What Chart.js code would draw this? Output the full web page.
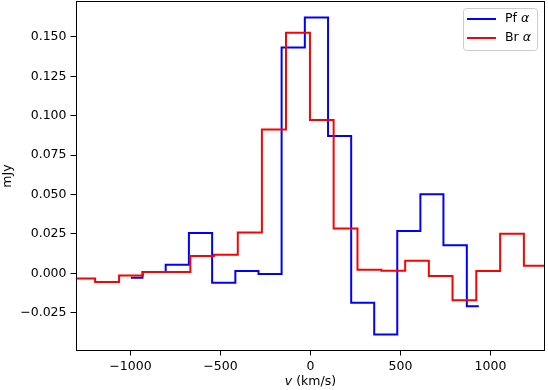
<!DOCTYPE html>
<html>
<head>
<meta charset="utf-8">
<script src="https://cdn.jsdelivr.net/npm/chart.js@4/dist/chart.umd.min.js"></script>
<style>
  html, body { margin: 0; padding: 0; background: #fff; }
  #wrap { width: 548px; height: 390px; position: relative; }
</style>
</head>
<body>
<div id="wrap"><canvas id="c"></canvas></div>
<script>
// ---- data ----
const seriesNames = ['Pf \u03b1', 'Br \u03b1'];
const pfVelocity = [-998, -869, -740, -611, -482, -353, -225, -96, 33, 162, 290, 418, 546, 675, 802, 935];
const pfFlux = [-0.0028, 0.0008, 0.0055, 0.0256, -0.0060, 0.0015, -0.0004, 0.1433, 0.1623, 0.0871, -0.0186, -0.0387, 0.0268, 0.0501, 0.0178, -0.0209];
const brVelocity = [-1395, -1263, -1130, -997, -866, -734, -601, -471, -337, -203, -69, 63, 194, 328, 460, 592, 723, 855, 987, 1120, 1251, 1383];
const brFlux = [-0.0032, -0.0032, -0.0055, -0.0013, 0.0008, 0.0008, 0.0110, 0.0118, 0.0260, 0.0913, 0.1526, 0.0972, 0.0285, 0.0023, 0.0017, 0.0080, -0.0017, -0.0171, 0.0015, 0.0251, 0.0048, 0.0048];
const xTickValues = [-1000, -500, 0, 500, 1000];
const yTickValues = [-0.025, 0.000, 0.025, 0.050, 0.075, 0.100, 0.125, 0.150];
const xAxisTitle = ['v', ' (km/s)'];
const yAxisTitle = 'mJy';

const FONT = 'DejaVu Sans';
const FS = 12.5;
const toPts = (xs, ys) => xs.map((x, i) => ({ x: x, y: ys[i] }));
const minus = s => String(s).replace('-', '\u2212');
const noPad = s => { s.paddingTop = 0; s.paddingBottom = 0; s.paddingLeft = 0; s.paddingRight = 0; };

const framePlugin = {
  id: 'frame',
  afterDatasetsDraw(chart) {
    const ctx = chart.ctx, a = chart.chartArea;
    ctx.save();
    ctx.strokeStyle = '#000';
    ctx.lineWidth = 1;
    ctx.strokeRect(a.left, a.top, a.right - a.left, a.bottom - a.top);

    // legend (upper right, inside axes)
    const bx = 463.5, by = 8.5, bw = 74, bh = 42, r = 3;
    ctx.beginPath();
    ctx.moveTo(bx + r, by);
    ctx.arcTo(bx + bw, by, bx + bw, by + bh, r);
    ctx.arcTo(bx + bw, by + bh, bx, by + bh, r);
    ctx.arcTo(bx, by + bh, bx, by, r);
    ctx.arcTo(bx, by, bx + bw, by, r);
    ctx.closePath();
    ctx.fillStyle = 'rgba(255,255,255,0.8)';
    ctx.fill();
    ctx.strokeStyle = '#cccccc';
    ctx.stroke();
    const ds = chart.data.datasets;
    ds.forEach((d, i) => {
      const y = 19 + i * 19;
      ctx.strokeStyle = d.borderColor;
      ctx.lineWidth = 2;
      ctx.beginPath();
      ctx.moveTo(467, y);
      ctx.lineTo(496, y);
      ctx.stroke();
      const parts = d.label.split(' ');
      ctx.fillStyle = '#000';
      ctx.textBaseline = 'middle';
      ctx.textAlign = 'left';
      ctx.font = FS + 'px "' + FONT + '"';
      const t1 = parts[0] + ' ';
      ctx.fillText(t1, 505, y);
      const w1 = ctx.measureText(t1).width;
      ctx.font = 'italic ' + FS + 'px "' + FONT + '"';
      ctx.fillText(parts[1], 505 + w1, y);
    });

    // x axis title with italic v
    const cx = (a.left + a.right) / 2, ty = 382;
    ctx.fillStyle = '#000';
    ctx.textBaseline = 'middle';
    ctx.textAlign = 'left';
    ctx.font = 'italic ' + FS + 'px "' + FONT + '"';
    const wv = ctx.measureText(xAxisTitle[0]).width;
    ctx.font = FS + 'px "' + FONT + '"';
    const wr = ctx.measureText(xAxisTitle[1]).width;
    const sx = cx - (wv + wr) / 2;
    ctx.font = 'italic ' + FS + 'px "' + FONT + '"';
    ctx.fillText(xAxisTitle[0], sx, ty);
    ctx.font = FS + 'px "' + FONT + '"';
    ctx.fillText(xAxisTitle[1], sx + wv, ty);
    ctx.restore();
  }
};

new Chart(document.getElementById('c'), {
  type: 'line',
  data: {
    datasets: [
      { label: seriesNames[0], data: toPts(pfVelocity, pfFlux), borderColor: '#0000ff', order: 1 },
      { label: seriesNames[1], data: toPts(brVelocity, brFlux), borderColor: '#ff0000', order: 0 }
    ]
  },
  options: {
    responsive: true,
    maintainAspectRatio: false,
    animation: false,
    layout: { padding: { top: 1.5, right: 3.5, left: 0, bottom: 0 } },
    datasets: {
      line: { stepped: 'middle', borderWidth: 2, pointRadius: 0, fill: false, clip: 0, tension: 0 }
    },
    plugins: { legend: { display: false }, tooltip: { enabled: false } },
    scales: {
      x: {
        type: 'linear',
        min: -1300, max: 1300,
        afterFit: s => { s.height = 39.5; noPad(s); },
        afterBuildTicks: s => { s.ticks = xTickValues.map(v => ({ value: v })); },
        ticks: { font: { family: FONT, size: FS }, color: '#000', padding: 4, maxRotation: 0,
                 callback: v => minus(v) },
        grid: { drawOnChartArea: false, drawTicks: true, tickLength: 5, tickColor: '#000' },
        border: { display: false }
      },
      y: {
        type: 'linear',
        min: -0.0489, max: 0.1724,
        afterFit: s => { s.width = 76.5; noPad(s); },
        afterBuildTicks: s => { s.ticks = yTickValues.map(v => ({ value: v })); },
        ticks: { font: { family: FONT, size: FS }, color: '#000', padding: 4,
                 callback: v => minus(Number(v).toFixed(3)) },
        grid: { drawOnChartArea: false, drawTicks: true, tickLength: 6, tickColor: '#000' },
        border: { display: false },
        title: { display: true, text: yAxisTitle, color: '#000', font: { family: FONT, size: FS }, padding: { top: 0, bottom: 0 } }
      }
    }
  },
  plugins: [framePlugin]
});
</script>
</body>
</html>
